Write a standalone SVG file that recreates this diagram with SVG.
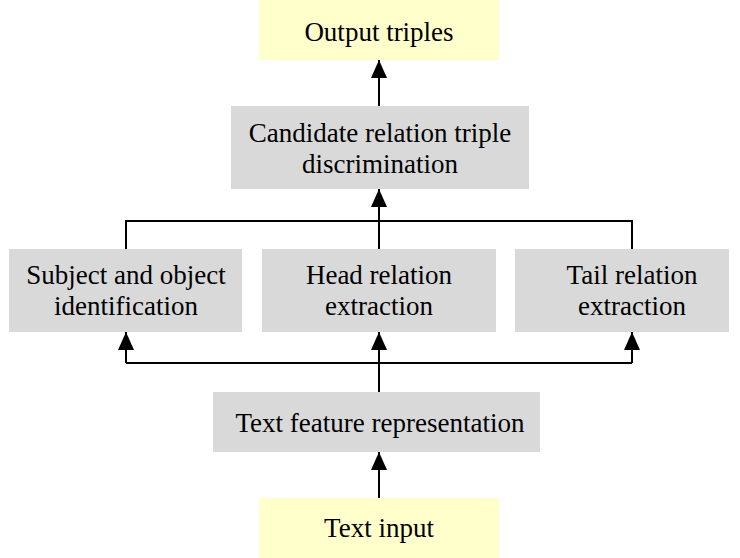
<svg xmlns="http://www.w3.org/2000/svg" width="740" height="558" viewBox="0 0 740 558">
<style>
.g{fill:#d9d9d9}
.y{fill:#ffffcc}
text{font-family:"Liberation Serif","Times New Roman",serif;font-size:27px;fill:#000;text-anchor:middle}
.c{stroke:#000;stroke-width:2;fill:none}
</style>
<defs>
<marker id="ah" markerWidth="18" markerHeight="16" viewBox="0 0 18 16" refX="18" refY="8" orient="auto" markerUnits="userSpaceOnUse">
<path d="M0,0 L18,8 L0,16 Z" fill="#000"/>
</marker>
</defs>
<rect width="740" height="558" fill="#fff"/>
<g id="output"><rect class="y" x="259" y="0" width="240" height="60"/><text x="379" y="41">Output triples</text></g>
<g id="candidate"><rect class="g" x="231" y="106" width="298" height="83"/><text x="380" y="142">Candidate relation triple</text><text x="380" y="173">discrimination</text></g>
<g id="subject"><rect class="g" x="9" y="249" width="233" height="83"/><text x="126" y="284">Subject and object</text><text x="126" y="315">identification</text></g>
<g id="head"><rect class="g" x="262" y="249" width="234" height="83"/><text x="379" y="284">Head relation</text><text x="379" y="315">extraction</text></g>
<g id="tail"><rect class="g" x="515" y="249" width="214" height="83"/><text x="632" y="284">Tail relation</text><text x="632" y="315">extraction</text></g>
<g id="feature"><rect class="g" x="213" y="392" width="327" height="60"/><text x="380" y="432">Text feature representation</text></g>
<g id="input"><rect class="y" x="259" y="498" width="240" height="60"/><text x="379" y="537">Text input</text></g>
<g id="connectors">
<path class="c" d="M379,106 V60" marker-end="url(#ah)"/>
<path class="c" d="M126,249 V221 H632 V249"/>
<path class="c" d="M379,249 V189" marker-end="url(#ah)"/>
<path class="c" d="M379,392 V363"/>
<path class="c" d="M379,363 V332" marker-end="url(#ah)"/>
<path class="c" d="M126,363 H632"/>
<path class="c" d="M126,363 V332" marker-end="url(#ah)"/>
<path class="c" d="M632,363 V332" marker-end="url(#ah)"/>
<path class="c" d="M379,498 V452" marker-end="url(#ah)"/>
</g>
</svg>
